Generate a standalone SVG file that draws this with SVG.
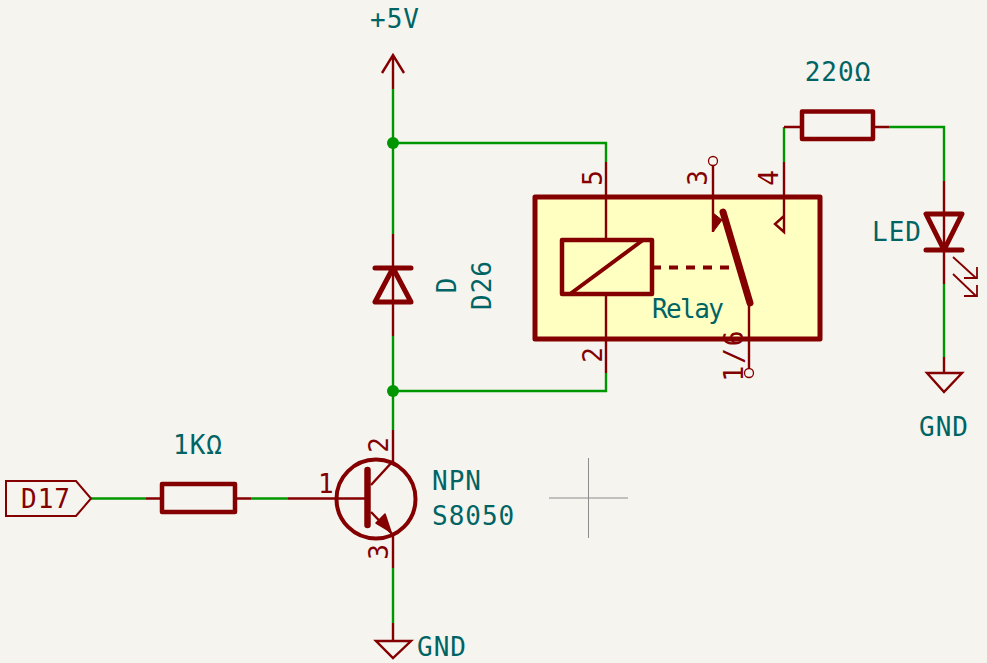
<svg xmlns="http://www.w3.org/2000/svg" width="987" height="663" viewBox="0 0 987 663">
<style>
text{font-family:"DejaVu Sans Mono","Liberation Mono",monospace;font-size:26px;letter-spacing:1px}
.t{fill:#006464}
.p{fill:#840000;letter-spacing:0}
.w{fill:none;stroke:#009600;stroke-width:2.4}
.l{fill:none;stroke:#840000;stroke-width:2.4}
.b{fill:none;stroke:#840000;stroke-width:5;stroke-linejoin:round;stroke-linecap:round}
.o{fill:none;stroke:#840000;stroke-width:1.3}
.r{fill:none;stroke:#840000;stroke-width:4.500;stroke-linejoin:round}
</style>
<rect width="987" height="663" fill="#f5f4ef"/>
<g id="connectors">
<path class="w" d="M393 89V234M393 143H606V162M393 336V430M393 391H606V373M91 498.500H146M251 498.500H288M393 568V623M784 162V127H784M889 127H944V181M944 284V357"/>
<circle cx="393" cy="143" r="6" fill="#009600"/>
<circle cx="393" cy="391" r="6" fill="#009600"/>
</g>
<g id="cross"><path d="M549 498H628M588.500 458V538" fill="none" stroke="#8c8c8c" stroke-width="1"/></g>
<g id="pwr5v">
<path class="l" d="M393 89V55M382 73L393 55L404 73"/>
<text class="t" x="395" y="28" text-anchor="middle">+5V</text>
</g>
<g id="diode">
<path class="l" d="M393 234V336"/>
<path class="b" d="M375 268H411M375 302H411L393 268Z"/>
<text class="t" transform="translate(456 285) rotate(-90)" text-anchor="middle">D</text>
<text class="t" transform="translate(491 285) rotate(-90)" text-anchor="middle">D26</text>
</g>
<g id="relay">
<rect class="b" x="535" y="197" width="285" height="142" style="fill:#ffffc2"/>
<path class="l" d="M606 162V240M606 294V373M713 165V232M749 303V369M784 162V232L775 224L784 216"/>
<rect class="r" x="562" y="240" width="90" height="54"/>
<path d="M570 294L643 240" fill="none" stroke="#840000" stroke-width="4"/>
<path d="M652 267.500H733" fill="none" stroke="#840000" stroke-width="4" stroke-dasharray="9 8"/>
<path d="M723 212L750 303" fill="none" stroke="#840000" stroke-width="7" stroke-linecap="round"/>
<path d="M713 232V213L722 220Z" fill="#840000" stroke="#840000" stroke-width="1"/>
<circle class="o" cx="713" cy="161" r="4.500"/>
<circle class="o" cx="749" cy="373" r="4.500"/>
<text class="p" transform="translate(602 178) rotate(-90)" text-anchor="middle">5</text>
<text class="p" transform="translate(602 355) rotate(-90)" text-anchor="middle">2</text>
<text class="p" transform="translate(707 178) rotate(-90)" text-anchor="middle">3</text>
<text class="p" transform="translate(778 178) rotate(-90)" text-anchor="middle">4</text>
<text class="p" transform="translate(743 355) rotate(-90)" text-anchor="middle" style="letter-spacing:2px">1/6</text>
<text class="t" x="652" y="318" style="letter-spacing:-1.600px">Relay</text>
</g>
<g id="r220">
<path class="l" d="M802 127H784M873 127H889"/>
<rect class="r" x="802" y="111.500" width="71" height="27.500"/>
<text class="t" x="838" y="81" text-anchor="middle">220Ω</text>
</g>
<g id="led">
<path class="l" d="M944 181V284"/>
<path class="b" d="M926 250H962M926 214H962L944 250Z"/>
<path d="M953 257L976 278M964 278H977V267M953 274L976 296M964 296H977V285" fill="none" stroke="#840000" stroke-width="1.800"/>
<text class="t" x="872" y="241">LED</text>
</g>
<g id="gnd1">
<path class="l" d="M944 357V373"/>
<path class="l" d="M927 373H962L944 392Z"/>
<text class="t" x="944" y="436" text-anchor="middle">GND</text>
</g>
<g id="d17">
<path d="M6 481H76L91 498.500L76 516H6Z" fill="none" stroke="#840000" stroke-width="2"/>
<text class="p" x="21" y="508" style="letter-spacing:1px">D17</text>
</g>
<g id="r1k">
<path class="l" d="M146 498.500H162M235 498.500H251"/>
<rect class="r" x="162" y="484" width="73" height="28"/>
<text class="t" x="198" y="454" text-anchor="middle">1KΩ</text>
</g>
<g id="q1">
<path class="l" d="M288 498.500H366M393 430V461L371 485M393 568V535L371 512"/>
<circle cx="376" cy="499" r="39.500" fill="none" stroke="#840000" stroke-width="4"/>
<path d="M367.500 470V525" fill="none" stroke="#840000" stroke-width="6.500" stroke-linecap="round"/>
<path d="M391 532L376 523L385 514Z" fill="#840000" stroke="#840000" stroke-width="1.500" stroke-linejoin="round"/>
<text class="p" x="318" y="493">1</text>
<text class="p" transform="translate(388 445) rotate(-90)" text-anchor="middle">2</text>
<text class="p" transform="translate(388 552) rotate(-90)" text-anchor="middle">3</text>
<text class="t" x="432" y="490">NPN</text>
<text class="t" x="432" y="525">S8050</text>
</g>
<g id="gnd2">
<path class="l" d="M393 623V641"/>
<path class="l" d="M376 641H411L393 658Z"/>
<text class="t" x="417" y="656">GND</text>
</g>
</svg>
